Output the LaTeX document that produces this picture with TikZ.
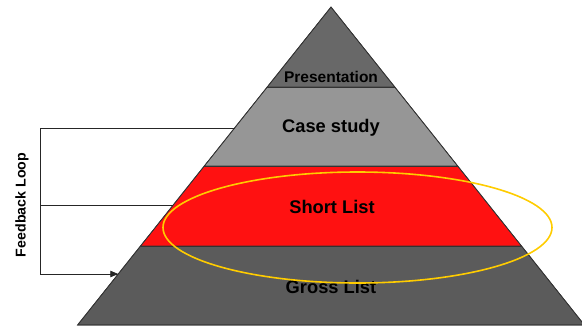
\documentclass[tikz,border=0pt]{standalone}
\usepackage{fontspec}
\setmainfont{Liberation Sans}
\usetikzlibrary{arrows,positioning}
\definecolor{topgray}{HTML}{686868}
\definecolor{casegray}{HTML}{969696}
\definecolor{shortred}{HTML}{FF1111}
\definecolor{grossgray}{HTML}{5B5B5B}
\definecolor{ringyellow}{HTML}{FFCC00}

\begin{document}
\begin{tikzpicture}[x=1pt,y=-1pt,
	band/.style={draw=black!80,line width=0.7pt},
	tier/.style={font=\fontsize{18.3}{20}\selectfont\bfseries},
	loop/.style={draw=black!85,line width=0.8pt}]
	\useasboundingbox (0,0) rectangle (582,327);
	\clip (0,0) rectangle (582,327);
	% pyramid bands
	\fill[band,fill=grossgray] (140.5,246) -- (521.5,246) -- (584.4,325) -- (77.6,325) -- cycle;
	\fill[band,fill=shortred] (204.3,166) -- (457.7,166) -- (521.5,246) -- (140.5,246) -- cycle;
	\fill[band,fill=casegray] (267.2,87) -- (394.8,87) -- (457.7,166) -- (204.3,166) -- cycle;
	\fill[band,fill=topgray] (331,7) -- (394.8,87) -- (267.2,87) -- cycle;
	\draw[band] (331,7) -- (584.4,325) -- (77.6,325) -- cycle;
	\draw[band] (267.2,87) -- (394.8,87) (204.3,166) -- (457.7,166) (140.5,246) -- (521.5,246);
	\node[tier,font=\fontsize{15.5}{17}\selectfont\bfseries] (pres) at (331,77) {Presentation};
	\node[tier] (case) at (331,128) {Case study};
	\node[tier] (short) at (332,207) {Short List};
	\node[tier] (gross) at (331,287) {Gross List};
	% feedback loop
	\coordinate (fbtop) at (40,128);
	\coordinate (fbmid) at (40,205);
	\coordinate (fbbot) at (40,274);
	\coordinate (edgetop) at (234.6,128);
	\coordinate (edgemid) at (173.2,205);
	\coordinate (edgebot) at (118.2,274);
	\draw[loop] (edgetop) -- (fbtop) -- (fbbot);
	\draw[loop,-triangle 45] (fbbot) -- (edgebot);
	\draw[loop] (fbmid) -- (edgemid);
	\node[rotate=90,font=\fontsize{14.2}{16}\selectfont\bfseries] (fbtext) at (22,205) {Feedback Loop};
	% highlight ring
	\draw[ringyellow,line width=1.6pt] (357.5,227.5) ellipse [x radius=194.5pt,y radius=55.5pt];
\end{tikzpicture}
\end{document}
